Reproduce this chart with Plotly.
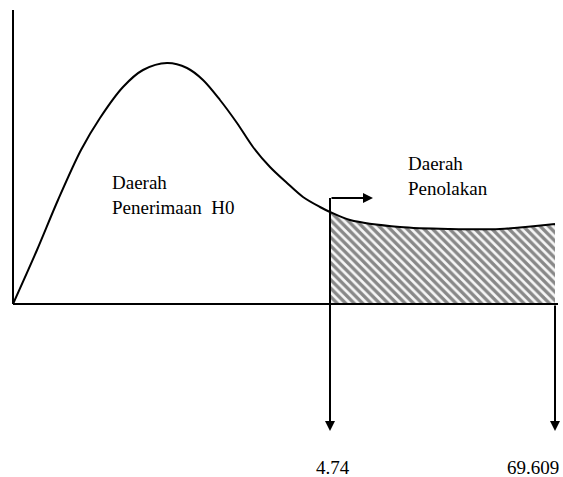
import plotly.graph_objects as go

# Schematic chi-square curve (arbitrary units, origin at the axes corner)
CURVE_X = [0, 24, 45, 68, 87, 110, 130, 154, 174, 190, 207, 224, 240, 257, 274,
           290, 307, 317, 337, 387, 437, 487, 542]
CURVE_Y = [0, 54, 104, 154, 186, 217, 234, 241, 236, 224, 204, 181, 157, 137, 121,
           107, 97, 92, 84, 77, 75, 75, 80]

CRIT_X = 317          # position of the critical value 4.74
END_X = 542           # position of 69.609
CRIT_LABEL = "4.74"
END_LABEL = "69.609"
ACCEPT_LABEL = "Daerah<br>Penerimaan\u00a0 H0"
REJECT_LABEL = "Daerah<br>Penolakan"

FONT = dict(family="Liberation Serif", size=19, color="black")

shade_x = [x for x in CURVE_X if x >= CRIT_X]
shade_y = [y for x, y in zip(CURVE_X, CURVE_Y) if x >= CRIT_X]

fig = go.Figure()
fig.add_trace(go.Scatter(
    x=shade_x, y=shade_y, mode="lines", fill="tozeroy",
    line=dict(width=0, shape="spline", smoothing=0.9),
    fillcolor="rgba(0,0,0,0)",
    fillpattern=dict(shape="\\", size=6, solidity=0.55, fgcolor="#1a1a1a",
                     bgcolor="#f6f6f6"),
    hoverinfo="skip", showlegend=False))
fig.add_trace(go.Scatter(
    x=CURVE_X, y=CURVE_Y, mode="lines",
    line=dict(color="black", width=2, shape="spline", smoothing=0.9),
    hoverinfo="skip", showlegend=False))

# axes drawn as lines
fig.add_shape(type="line", x0=0, x1=0, y0=0, y1=294, line=dict(color="black", width=2))
fig.add_shape(type="line", x0=0, x1=545, y0=0, y1=0, line=dict(color="black", width=2))

arrow = dict(showarrow=True, arrowhead=2, arrowsize=1, arrowwidth=2, arrowcolor="black",
             axref="x", ayref="y", text="")
# step arrow from curve into rejection region
fig.add_shape(type="line", x0=CRIT_X, x1=CRIT_X, y0=92, y1=106, line=dict(color="black", width=2))
fig.add_annotation(x=CRIT_X + 43, y=106, ax=CRIT_X, ay=106, **arrow)
# downward arrows
fig.add_annotation(x=CRIT_X, y=-127, ax=CRIT_X, ay=106, **arrow)
fig.add_annotation(x=END_X, y=-127, ax=END_X, ay=0, **arrow)

fig.add_annotation(x=97, y=109, text=ACCEPT_LABEL, showarrow=False, xanchor="left",
                   yanchor="middle", align="left", font=FONT)
fig.add_annotation(x=393, y=128, text=REJECT_LABEL, showarrow=False, xanchor="left",
                   yanchor="middle", align="left", font=FONT)
fig.add_annotation(x=CRIT_X + 3, y=-163, text=CRIT_LABEL, showarrow=False,
                   xanchor="center", yanchor="middle", font=FONT)
fig.add_annotation(x=492, y=-163, text=END_LABEL, showarrow=False,
                   xanchor="left", yanchor="middle", font=FONT)

fig.update_layout(
    width=563, height=477, margin=dict(l=0, r=0, t=0, b=0),
    paper_bgcolor="white", plot_bgcolor="white",
    xaxis=dict(range=[-13, 550], visible=False, fixedrange=True),
    yaxis=dict(range=[-173, 304], visible=False, fixedrange=True),
)
fig.write_html("out.html", config={"displayModeBar": False},
               post_script="document.body.style.margin='0';document.body.style.overflow='hidden';")
